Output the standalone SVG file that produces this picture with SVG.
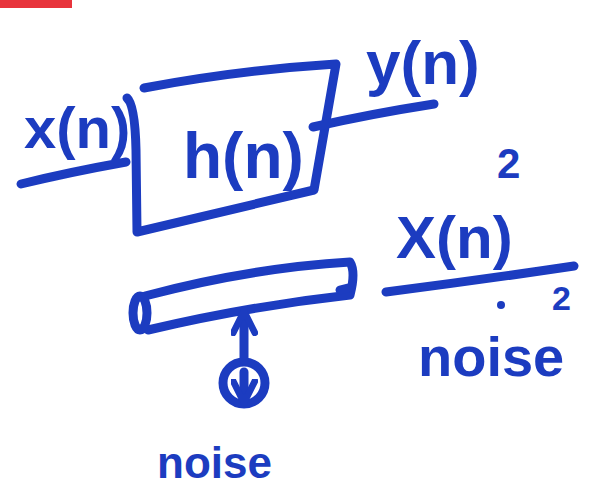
<svg xmlns="http://www.w3.org/2000/svg" width="600" height="487" viewBox="0 0 600 487">
<style>
.ink{fill:none;stroke:#1c3cc0;stroke-width:9;stroke-linecap:round;stroke-linejoin:round}
.t{fill:#1c3cc0;font-family:"Liberation Sans",Arial,sans-serif;font-weight:bold}
</style>
<defs>
<marker id="ah" viewBox="0 0 10 10" refX="5" refY="5" markerWidth="3" markerHeight="3" orient="auto-start-reverse">
<path d="M1,1 L9,5 L1,9" fill="none" stroke="#1c3cc0" stroke-width="2.5" stroke-linecap="round"/>
</marker>
</defs>
<rect width="600" height="487" fill="#ffffff"/>
<rect x="0" y="0" width="72" height="8" fill="#e8343c"/>
<g id="system">
<path class="ink" d="M127,98 Q135,105 136,150 L137,232 Q220,212 314,190 L336,64 Q240,70 144,88"/>
<text class="t" x="183" y="178" font-size="64">h(n)</text>
</g>
<g id="input">
<text class="t" x="24" y="148" font-size="58">x(n)</text>
</g>
<g id="output">
<text class="t" x="366" y="84" font-size="62">y(n)</text>
</g>
<g id="channel">
<path class="ink" d="M145,296 Q250,268 350,262 Q356,272 350,295 Q250,306 148,330"/>
<ellipse class="ink" cx="140" cy="313" rx="7" ry="17"/>
<path class="ink" d="M340,290 L348,288"/>
</g>
<g id="noise-source">
<circle class="ink" cx="244" cy="383" r="21"/>
<path class="ink" d="M244,372 L244,392" marker-end="url(#ah)"/>
<text class="t" x="157" y="478" font-size="44">noise</text>
</g>
<g id="snr">
<text class="t" x="497" y="178" font-size="42">2</text>
<text class="t" x="396" y="258" font-size="60">X(n)</text>
<text class="t" x="552" y="310" font-size="34">2</text>
<circle cx="501" cy="305" r="4" fill="#1c3cc0"/>
<text class="t" x="418" y="376" font-size="56">noise</text>
</g>
<g id="connectors">
<path class="ink" d="M21,184 Q70,172 126,162"/>
<path class="ink" d="M313,127 Q370,114 434,104"/>
<path class="ink" d="M244,360 L244,322" marker-end="url(#ah)"/>
<path class="ink" d="M386,292 Q480,280 574,266"/>
</g>
</svg>
